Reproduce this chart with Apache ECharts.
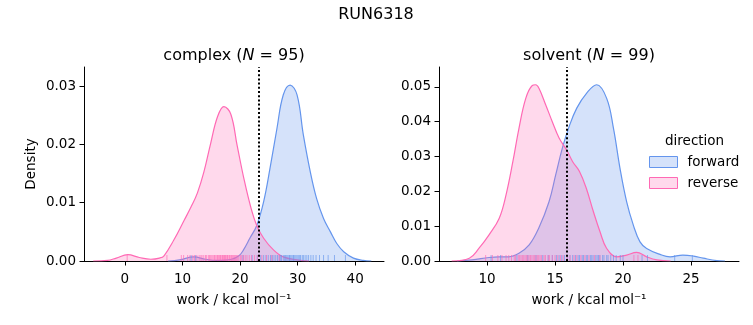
<!DOCTYPE html>
<html>
<head>
<meta charset="utf-8">
<script src="https://cdn.jsdelivr.net/npm/echarts@6/dist/echarts.min.js"></script>
<style>html,body{margin:0;padding:0;background:#fff}#c{width:753px;height:325px}</style>
</head>
<body>
<div id="c"></div>
<script>
// ---- data ----
const suptitle = 'RUN6318';
const panelNames = ['complex', 'solvent'];
const panelN = [95, 99];
const directions = ['forward', 'reverse'];

// complex KDE curves (work, density)
const complexFwdX = [7.5, 9.5, 12.0, 14.0, 16.0, 18.5, 19.8, 20.6, 21.7, 22.9, 24.1, 25.2, 26.4, 27.5, 28.7, 29.9, 31.0, 32.2, 33.3, 34.5, 35.7, 36.8, 38.0, 39.7, 41.4, 42.8];
const complexFwdY = [0, 0.0002, 0.0007, 0.0003, 0.0001, 0.0003, 0.0009, 0.0019, 0.0039, 0.0061, 0.0102, 0.0159, 0.0227, 0.0285, 0.0302, 0.0285, 0.0216, 0.0153, 0.0107, 0.0073, 0.0050, 0.0030, 0.0016, 0.0005, 0.0001, 0];
const complexRevX = [-5.5, -3.0, -1.5, 0.5, 2.5, 4.5, 6.0, 6.8, 8.5, 10.3, 11.5, 12.6, 13.7, 14.9, 16.1, 17.2, 18.4, 19.5, 20.7, 21.9, 22.9, 24.1, 25.8, 27.5, 29.9, 32.0];
const complexRevY = [0, 0.0001, 0.0005, 0.00108, 0.0006, 0.0003, 0.0005, 0.0009, 0.0036, 0.0070, 0.0093, 0.0117, 0.0152, 0.0202, 0.0248, 0.0265, 0.0252, 0.0198, 0.0140, 0.0091, 0.0061, 0.0039, 0.0019, 0.0007, 0.0002, 0];

// solvent KDE curves
const solventFwdX = [7.8, 8.9, 10.15, 10.9, 11.6, 12.35, 13.1, 13.8, 14.56, 15.05, 15.54, 16.03, 16.6, 17.33, 18.06, 18.8, 19.3, 19.78, 20.27, 20.76, 21.25, 21.74, 22.72, 23.46, 24.4, 25.2, 25.9, 26.9, 27.5];
const solventFwdY = [0, 0.0003, 0.0010, 0.0012, 0.0012, 0.0022, 0.0046, 0.0094, 0.0170, 0.0247, 0.0324, 0.0385, 0.0439, 0.0482, 0.0506, 0.0467, 0.0381, 0.0266, 0.0170, 0.0103, 0.0055, 0.0036, 0.0019, 0.0012, 0.0017, 0.0014, 0.0008, 0.0001, 0];
const solventRevX = [7.4, 8.7, 9.4, 10.15, 10.9, 11.4, 11.9, 12.35, 12.85, 13.33, 13.58, 13.82, 14.32, 14.8, 15.3, 15.85, 16.3, 16.8, 17.3, 17.82, 18.31, 18.8, 19.54, 20.27, 21.0, 21.74, 22.5, 23.5];
const solventRevY = [0, 0.0008, 0.0036, 0.0075, 0.0123, 0.0190, 0.0285, 0.0381, 0.0467, 0.0504, 0.0506, 0.0496, 0.0448, 0.0400, 0.0353, 0.0319, 0.0285, 0.0257, 0.0209, 0.0142, 0.0084, 0.0036, 0.0012, 0.0017, 0.0025, 0.0012, 0.0003, 0];

// rug samples (work values)
const complexFwdRug = [11.5, 12.3, 20.5, 22.1, 23.0, 23.6, 24.1, 24.5, 24.9, 25.3, 25.6, 25.9, 26.2, 26.5, 26.8, 27.0, 27.2, 27.5, 27.7, 27.9, 28.1, 28.3, 28.5, 28.6, 28.8, 29.0, 29.2, 29.3, 29.5, 29.7, 29.9, 30.1, 30.3, 30.5, 30.8, 31.0, 31.3, 31.6, 31.9, 32.3, 32.7, 33.2, 33.8, 34.5, 35.3, 36.4, 38.3];
const complexRevRug = [0.4, 7.3, 9.8, 10.2, 10.9, 11.3, 11.8, 12.1, 12.5, 12.9, 13.2, 13.4, 13.7, 14.0, 14.2, 14.5, 14.7, 14.9, 15.1, 15.3, 15.5, 15.6, 15.8, 16.0, 16.1, 16.3, 16.4, 16.6, 16.7, 16.9, 17.0, 17.1, 17.3, 17.4, 17.5, 17.7, 17.8, 17.9, 18.1, 18.2, 18.4, 18.5, 18.7, 18.9, 19.0, 19.2, 19.4, 19.6, 19.8, 20.1, 20.3, 20.6, 20.9, 21.2, 21.6, 22.0, 22.5, 23.0, 23.8, 24.6, 25.5, 26.8];
const solventFwdRug = [10.3, 11.0, 12.2, 13.0, 13.6, 14.1, 14.5, 14.8, 15.1, 15.3, 15.5, 15.7, 15.9, 16.1, 16.3, 16.5, 16.7, 16.8, 17.0, 17.1, 17.3, 17.4, 17.6, 17.7, 17.8, 18.0, 18.1, 18.2, 18.3, 18.5, 18.6, 18.8, 18.9, 19.1, 19.3, 19.5, 19.8, 20.0, 21.4, 21.8, 23.8, 25.1];
const solventRevRug = [9.9, 10.4, 10.8, 11.1, 11.4, 11.6, 11.8, 12.0, 12.1, 12.3, 12.4, 12.5, 12.6, 12.7, 12.8, 12.9, 13.0, 13.1, 13.2, 13.3, 13.4, 13.5, 13.6, 13.7, 13.8, 13.9, 14.0, 14.2, 14.3, 14.5, 14.6, 14.8, 15.0, 15.2, 15.4, 15.6, 15.9, 16.1, 16.4, 16.6, 16.9, 17.2, 17.5, 17.9, 18.3, 20.8, 21.1];

// vertical dotted reference lines
const refLines = [23.3, 15.87];

// tick values
const complexXTicks = [0, 10, 20, 30, 40];
const solventXTicks = [10, 15, 20, 25];
const complexYTicks = [0, 0.01, 0.02, 0.03];
const solventYTicks = [0, 0.01, 0.02, 0.03, 0.04, 0.05];
const xRanges = [[-7.1, 45.0], [6.47, 28.53]];
const yRanges = [[0, 0.0333], [0, 0.0557]];

// ---- styling ----
const FONT = 'DejaVu Sans';
const BLUE = '#6495ED', PINK = '#FF69B4';
const colors = {forward: BLUE, reverse: PINK};
const fills = {forward: 'rgba(100,149,237,0.27)', reverse: 'rgba(255,105,180,0.25)'};

const zip = (xs, ys) => xs.map((x, i) => [x, ys[i]]);
const curves = [
  {forward: zip(complexFwdX, complexFwdY), reverse: zip(complexRevX, complexRevY)},
  {forward: zip(solventFwdX, solventFwdY), reverse: zip(solventRevX, solventRevY)}
];
const rugs = [
  {forward: complexFwdRug, reverse: complexRevRug},
  {forward: solventFwdRug, reverse: solventRevRug}
];
const xTicks = [complexXTicks, solventXTicks];
const yTicks = [complexYTicks, solventYTicks];

const grids = [
  {left: 84, top: 67, width: 300, height: 194},
  {left: 439, top: 67, width: 300, height: 194}
];

const xAxes = [0, 1].map(i => ({
  type: 'value', gridIndex: i, min: xRanges[i][0], max: xRanges[i][1],
  name: 'work / kcal mol\u207B\u00B9', nameLocation: 'middle', nameGap: 32,
  nameTextStyle: {fontFamily: FONT, fontSize: 13.5, color: '#000'},
  axisLine: {show: true, onZero: false, lineStyle: {color: '#000', width: 1}},
  axisTick: {show: true, length: 4.5, customValues: xTicks[i], lineStyle: {color: '#000', width: 1}},
  axisLabel: {customValues: xTicks[i], margin: 11, fontFamily: FONT, fontSize: 13.5, color: '#000'},
  splitLine: {show: false}
}));
const yAxes = [0, 1].map(i => ({
  type: 'value', gridIndex: i, min: yRanges[i][0], max: yRanges[i][1],
  name: i === 0 ? 'Density' : '', nameLocation: 'middle', nameGap: 46,
  nameTextStyle: {fontFamily: FONT, fontSize: 13.5, color: '#000'},
  axisLine: {show: true, onZero: false, lineStyle: {color: '#000', width: 1}},
  axisTick: {show: true, length: 4.5, customValues: yTicks[i], lineStyle: {color: '#000', width: 1}},
  axisLabel: {customValues: yTicks[i], margin: 8, fontFamily: FONT, fontSize: 13.5, color: '#000',
    formatter: v => v.toFixed(2)},
  splitLine: {show: false}
}));

const series = [];
[0, 1].forEach(i => {
  directions.forEach((d, k) => {
    const s = {
      name: d, type: 'line', xAxisIndex: i, yAxisIndex: i,
      data: curves[i][d], smooth: 0.4, showSymbol: false, symbol: 'none',
      lineStyle: {color: colors[d], width: 1.2},
      itemStyle: {color: colors[d]},
      areaStyle: {color: fills[d], opacity: 1},
      z: 2 + k, silent: true
    };
    if (k === 0) {
      s.markLine = {
        silent: true, symbol: 'none', label: {show: false},
        lineStyle: {color: '#000', type: [2, 2.2], width: 2},
        data: [{xAxis: refLines[i]}], z: 10
      };
    }
    series.push(s);
  });
  directions.forEach(d => {
    series.push({
      name: d, type: 'scatter', xAxisIndex: i, yAxisIndex: i,
      data: rugs[i][d].map(v => [v, 0]),
      symbol: 'rect', symbolSize: [1, 6], symbolOffset: [0, -3],
      itemStyle: {color: colors[d], opacity: 0.65},
      clip: false, silent: true, z: 5
    });
  });
});

const chart = echarts.init(document.getElementById('c'), null, {renderer: 'canvas'});
chart.setOption({
  animation: false,
  backgroundColor: '#fff',
  title: [
    {text: suptitle, left: 371, top: 2, textAlign: 'center',
      textStyle: {fontFamily: FONT, fontSize: 16, fontWeight: 'normal', color: '#000'}},
    {text: panelNames[0] + ' ({i|N} = ' + panelN[0] + ')', left: 229, top: 43, textAlign: 'center',
      textStyle: {fontFamily: FONT, fontSize: 16, fontWeight: 'normal', color: '#000',
        rich: {i: {fontFamily: FONT, fontSize: 16, fontStyle: 'italic', color: '#000'}}}},
    {text: panelNames[1] + ' ({i|N} = ' + panelN[1] + ')', left: 584, top: 43, textAlign: 'center',
      textStyle: {fontFamily: FONT, fontSize: 16, fontWeight: 'normal', color: '#000',
        rich: {i: {fontFamily: FONT, fontSize: 16, fontStyle: 'italic', color: '#000'}}}}
  ],
  grid: grids,
  xAxis: xAxes,
  yAxis: yAxes,
  legend: {
    orient: 'vertical', left: 649, top: 155, padding: 0, itemWidth: 28, itemHeight: 11, itemGap: 7,
    icon: 'rect',
    textStyle: {fontFamily: FONT, fontSize: 13.5, color: '#000', padding: [0, 0, 0, 5]},
    data: directions.map(d => ({name: d, itemStyle: {color: fills[d], borderColor: colors[d], borderWidth: 1}})),
    selectedMode: false
  },
  graphic: [{
    type: 'text', left: 665, top: 134,
    style: {text: 'direction', fontFamily: FONT, fontSize: 13.5, fill: '#000'}
  }],
  series: series
});
</script>
</body>
</html>
